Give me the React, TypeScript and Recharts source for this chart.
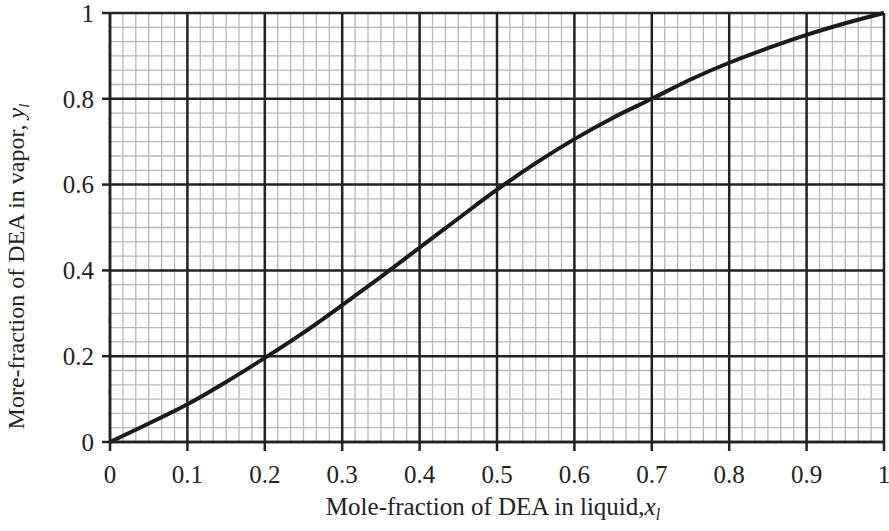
import React from "react";
import {
  LineChart,
  Line,
  XAxis,
  YAxis,
  ReferenceLine,
} from "recharts";

// liquid mole fraction x_l and vapour mole fraction y_l of DEA
const xLiquid = [0, 0.05, 0.1, 0.15, 0.2, 0.25, 0.3, 0.35, 0.4, 0.45, 0.5, 0.55, 0.6, 0.65, 0.7, 0.75, 0.8, 0.85, 0.9, 0.95, 1];
const yVapor = [0, 0.043, 0.088, 0.14, 0.196, 0.255, 0.319, 0.385, 0.453, 0.521, 0.588, 0.65, 0.706, 0.756, 0.8, 0.845, 0.884, 0.918, 0.949, 0.976, 1];

const xTicks = [0, 0.1, 0.2, 0.3, 0.4, 0.5, 0.6, 0.7, 0.8, 0.9, 1];
const yTicks = [0, 0.2, 0.4, 0.6, 0.8, 1];

const data = xLiquid.map((x, i) => ({ x, y: yVapor[i] }));

// light grid: 6 subdivisions between each pair of major lines
const subdivide = (ticks: number[]) => {
  const out: number[] = [];
  for (let i = 0; i < ticks.length - 1; i++) {
    const step = (ticks[i + 1] - ticks[i]) / 6;
    for (let k = 1; k < 6; k++) out.push(ticks[i] + step * k);
  }
  return out;
};
const xMinor = subdivide(xTicks);
const yMinor = subdivide(yTicks);

const FONT = "'Liberation Serif', 'Times New Roman', serif";
const INK = "#222";

const XTitle = (props: any) => {
  const vb = props.viewBox;
  return (
    <text
      x={vb.x + vb.width / 2 - 4}
      y={vb.y + 73}
      textAnchor="middle"
      fontFamily={FONT}
      fontSize={25}
      fill={INK}
    >
      Mole-fraction of DEA in liquid,
      <tspan fontStyle="italic">x</tspan>
      <tspan fontStyle="italic" fontSize={16} dy={5}>l</tspan>
    </text>
  );
};

const YTitle = (props: any) => {
  const vb = props.viewBox;
  const cx = 24;
  const cy = vb.y + vb.height / 2 + 39;
  return (
    <text
      x={cx}
      y={cy}
      transform={`rotate(-90 ${cx} ${cy})`}
      textAnchor="middle"
      fontFamily={FONT}
      fontSize={24}
      fill={INK}
    >
      More-fraction of DEA in vapor,{" "}
      <tspan fontStyle="italic">y</tspan>
      <tspan fontStyle="italic" fontSize={15} dy={5}>l</tspan>
    </text>
  );
};

const App = () => {
  return (
    <div style={{ position: "absolute", left: 0, top: 0, width: 889, height: 531, background: "#fff" }}>
      <LineChart
        width={889}
        height={531}
        data={data}
        margin={{ top: 13, right: 5, bottom: 0, left: 0 }}
      >
        <XAxis
          dataKey="x"
          type="number"
          domain={[0, 1]}
          ticks={xTicks}
          interval={0}
          height={89}
          tickSize={9}
          tickMargin={14}
          axisLine={{ stroke: INK, strokeWidth: 2.5 }}
          tickLine={{ stroke: INK, strokeWidth: 2.5 }}
          tick={{ fill: INK, fontSize: 25, fontFamily: FONT }}
          label={{ content: XTitle }}
        />
        <YAxis
          type="number"
          domain={[0, 1]}
          ticks={yTicks}
          interval={0}
          width={110}
          tickSize={8}
          tickMargin={8}
          axisLine={{ stroke: INK, strokeWidth: 2.5 }}
          tickLine={{ stroke: INK, strokeWidth: 2.5 }}
          tick={{ fill: INK, fontSize: 25, fontFamily: FONT }}
          label={{ content: YTitle }}
        />
        {xMinor.map((v) => (
          <ReferenceLine key={"xm" + v} x={v} stroke="#b8b8b8" strokeWidth={1.3} />
        ))}
        {yMinor.map((v) => (
          <ReferenceLine key={"ym" + v} y={v} stroke="#b8b8b8" strokeWidth={1.3} />
        ))}
        {xTicks.map((v) => (
          <ReferenceLine key={"xM" + v} x={v} stroke={INK} strokeWidth={2.5} />
        ))}
        {yTicks.map((v) => (
          <ReferenceLine key={"yM" + v} y={v} stroke={INK} strokeWidth={2.5} />
        ))}
        <Line
          type="monotone"
          dataKey="y"
          stroke="#1a1a1a"
          strokeWidth={4}
          dot={false}
          isAnimationActive={false}
        />
      </LineChart>
    </div>
  );
};

export default App;
